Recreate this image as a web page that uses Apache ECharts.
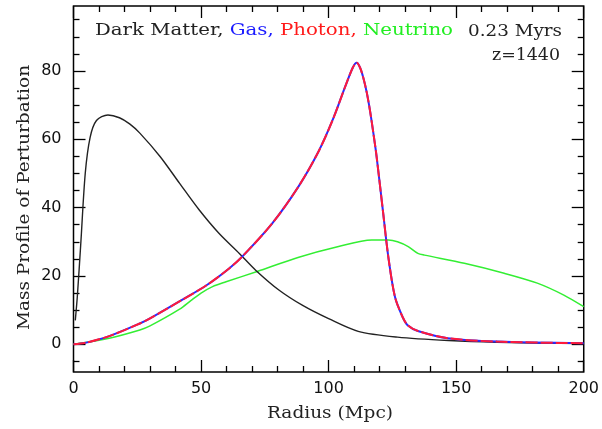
<!DOCTYPE html>
<html>
<head>
<meta charset="utf-8">
<script src="https://cdn.jsdelivr.net/npm/echarts@6/dist/echarts.min.js"></script>
<style>html,body{margin:0;padding:0;background:#fff}#c{width:602px;height:429px}</style>
</head>
<body>
<div id="c"></div>
<script>
// Radius (Mpc) and mass profile values
const darkMatter = [[0.7,7],[1.5,14],[2.9,30],[4.6,50],[6.5,60.5],[9,65.5],[13.5,67.1],[18,66.3],[22,64.5],[26,61.8],[34,54.9],[41.6,47.1],[49.3,39.3],[57,32.5],[65,26.6],[71.4,21.7],[80.5,15.9],[90,11.3],[100,7.5],[111.6,3.8],[127,2.1],[147,1.1],[166,0.6],[200,0.2]];
const gas = [[0,0],[5,0.5],[14,2.4],[26,6.1],[30,7.6],[43,13.2],[52,17.2],[61,22.2],[66.3,25.8],[77.9,35.4],[88.3,46.3],[96.1,56.5],[101.5,65.5],[106.5,75.4],[109.5,81],[111,82.4],[112.3,81],[113.6,78],[115,73.5],[116.3,68],[117.5,62],[118.8,55],[121.4,38.3],[123.4,25.6],[126,13.9],[129,8],[131.1,5.5],[135,3.9],[146.7,1.8],[166,0.8],[200,0.3]];
const photon = gas.map(p => p.slice());
const neutrino = [[0,0],[14,1.8],[26,4.2],[30,5.4],[41.6,10.3],[46,12.8],[50,15],[54.5,16.9],[59.8,18.3],[72,21.3],[88,25.4],[103.9,28.6],[116.9,30.5],[123.4,30.5],[127,30],[131.2,28.6],[135,26.6],[137.6,26.1],[153.2,23.7],[168.8,20.8],[181.8,17.9],[192.2,14.4],[200,11]];
const xMajor = [0,50,100,150,200];
const xMinor = [10,20,30,40,60,70,80,90,110,120,130,140,160,170,180,190];
const yMajor = [0,20,40,60,80];
const yMinor = [-5,5,10,15,25,30,35,45,50,55,65,70,75,85,90,95];
const legendWords = ['Dark Matter, ', 'Gas, ', 'Photon, ', 'Neutrino'];
const timeText = '0.23 Myrs';
const redshiftText = 'z=1440';
const xTitle = 'Radius (Mpc)';
const yTitle = 'Mass Profile of Perturbation';

const serifName = 'DejaVu Serif';
const sans = '"DejaVu Sans", sans-serif';
const xRange = {min:0, max:200};
const yRange = {min:-8.1, max:99};
const FS = 16;
const fontStr = FS + 'px "' + serifName + '"';
const mctx = document.createElement('canvas').getContext('2d');
mctx.font = fontStr;
const measure = t => mctx.measureText(t).width;

function xAx(pos, vals, len, labels){
  return Object.assign({type:'value', position:pos, splitLine:{show:false},
    axisLine:{show:false, onZero:false},
    axisTick:{show:true, inside:true, length:len, customValues:vals, lineStyle:{color:'#000', width:1.3}},
    axisLabel:{show:labels, customValues:vals, margin:9, color:'#111', fontFamily:sans, fontSize:16}}, xRange);
}
function yAx(pos, vals, len, labels){
  return Object.assign({type:'value', position:pos, splitLine:{show:false},
    axisLine:{show:false, onZero:false},
    axisTick:{show:true, inside:true, length:len, customValues:vals, lineStyle:{color:'#000', width:1.3}},
    axisLabel:{show:labels, customValues:vals, margin:12, color:'#111', fontFamily:sans, fontSize:16}}, yRange);
}

// legend line, stretched horizontally to the reference's width
const legendColors = ['#222', '#1a1aff', '#ff1a1a', '#22ee22'];
const legendFull = legendWords.join('');
const legScale = 358 / measure(legendFull);
const legendEls = [];
let acc = 0;
legendWords.forEach((w, i) => {
  legendEls.push({type:'text', x: acc * legScale, y: 0, scaleX: legScale,
    style:{text:w, font:fontStr, fill:legendColors[i], verticalAlign:'middle', align:'left'}});
  acc += measure(w);
});

const timeScale = 94 / measure(timeText);
const zScale = 68 / measure(redshiftText);
const xtScale = 126 / measure(xTitle);

const chart = echarts.init(document.getElementById('c'), null, {renderer:'canvas'});
chart.setOption({
  animation:false,
  backgroundColor:'#fff',
  grid:{left:73.5, right:15, top:6, bottom:57, show:true, borderColor:'#000', borderWidth:1.5, backgroundColor:'transparent'},
  graphic:[
    {type:'group', x:95, y:31, children:legendEls},
    {type:'text', x:562, y:32, scaleX:timeScale, style:{text:timeText, font:fontStr, fill:'#222', align:'right', verticalAlign:'middle'}},
    {type:'text', x:560, y:56, scaleX:zScale, style:{text:redshiftText, font:fontStr, fill:'#222', align:'right', verticalAlign:'middle'}},
    {type:'text', x:330, y:414, scaleX:xtScale, style:{text:xTitle, font:fontStr, fill:'#222', align:'center', verticalAlign:'middle'}},
    {type:'text', x:24.5, y:330, rotation:Math.PI/2, scaleX:xtScale, style:{text:yTitle, font:fontStr, fill:'#222', align:'left', verticalAlign:'middle'}}
  ],
  xAxis:[xAx('bottom', xMajor, 12, true), xAx('bottom', xMinor, 6, false), xAx('top', xMajor, 12, false), xAx('top', xMinor, 6, false)],
  yAxis:[yAx('left', yMajor, 12, true), yAx('left', yMinor, 6, false), yAx('right', yMajor, 12, false), yAx('right', yMinor, 6, false)],
  series:[
    {type:'line', data:neutrino, showSymbol:false, smooth:0.3, lineStyle:{color:'#33ee33', width:1.5}},
    {type:'line', data:darkMatter, showSymbol:false, smooth:0.3, lineStyle:{color:'#222', width:1.4}},
    {type:'line', data:gas, showSymbol:false, smooth:0.3, lineStyle:{color:'#2a2aff', width:2}},
    {type:'line', data:photon, showSymbol:false, smooth:0.3, lineStyle:{color:'#ff1a3a', width:2, type:[12,3]}}
  ]
});
</script>
</body>
</html>
